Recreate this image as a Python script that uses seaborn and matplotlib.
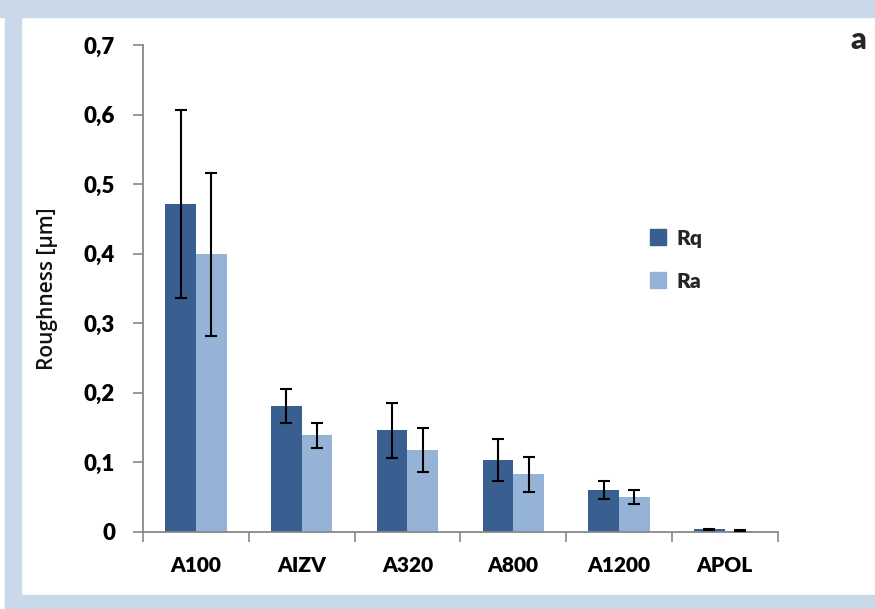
import matplotlib
matplotlib.use("Agg")
import matplotlib.pyplot as plt
import matplotlib.patches as mpatches
from matplotlib.lines import Line2D
import seaborn as sns
import pandas as pd
import numpy as np

categories = ["A100", "AIZV", "A320", "A800", "A1200", "APOL"]
series = ["Rq", "Ra"]
rq_values = [0.471, 0.181, 0.146, 0.104, 0.060, 0.004]
ra_values = [0.399, 0.139, 0.118, 0.083, 0.050, 0.002]
rq_errors = [0.135, 0.024, 0.040, 0.030, 0.013, 0.001]
ra_errors = [0.117, 0.018, 0.032, 0.025, 0.010, 0.001]
yticks = [0, 0.1, 0.2, 0.3, 0.4, 0.5, 0.6, 0.7]
ytick_labels = ["0", "0,1", "0,2", "0,3", "0,4", "0,5", "0,6", "0,7"]

colors = {"Rq": "#385F90", "Ra": "#95B3D7"}
frame_color = "#C9D9EA"
spine_color = "#888888"

sns.set_theme(style="white")
plt.rcParams["font.family"] = ["Lato", "DejaVu Sans"]

df = pd.DataFrame({
    "cat": categories * 2,
    "series": ["Rq"] * len(categories) + ["Ra"] * len(categories),
    "val": rq_values + ra_values,
})

fig = plt.figure(figsize=(8.75, 6.09), dpi=100)
fig.patch.set_facecolor("white")
# light blue frame
fig.patches.append(mpatches.Rectangle((0, 1 - 17 / 609), 1, 17 / 609, transform=fig.transFigure,
                                      color=frame_color, zorder=0))
fig.patches.append(mpatches.Rectangle((5 / 875, 1 / 609), 16 / 875, 1, transform=fig.transFigure,
                                      color=frame_color, zorder=0))
fig.patches.append(mpatches.Rectangle((5 / 875, 1 / 609), 1, 13 / 609, transform=fig.transFigure,
                                      color=frame_color, zorder=0))

ax = fig.add_axes([143 / 875, 1 - 532 / 609, (777.7 - 143) / 875, (532 - 45) / 609])
ax.set_facecolor("white")

sns.barplot(data=df, x="cat", y="val", hue="series", order=categories, hue_order=series,
            palette=colors, width=0.58, gap=0, ax=ax, legend=False, errorbar=None,
            saturation=1, edgecolor="none", linewidth=0)

errs = {"Rq": rq_errors, "Ra": ra_errors}
vals = {"Rq": rq_values, "Ra": ra_values}
for cont, s in zip(ax.containers, series):
    xs = [b.get_x() + b.get_width() / 2 for b in cont]
    ax.errorbar(xs, vals[s], yerr=errs[s], fmt="none", ecolor="black",
                elinewidth=1.5, capsize=4.5, capthick=1.5, zorder=5)

ax.set_ylim(0, 0.7)
ax.set_xlim(-0.5, len(categories) - 0.5)
ax.set_yticks(yticks)
ax.set_yticklabels(ytick_labels, fontsize=16, fontweight="heavy", color="black")
ax.set_xticks(range(len(categories)))
ax.set_xticklabels(categories, fontsize=15, fontweight="heavy", color="black")
ax.set_xticks(np.arange(-0.5, len(categories), 1), minor=True)
ax.tick_params(axis="x", which="major", length=0, pad=17)
ax.tick_params(axis="x", which="minor", length=7, width=1.2, color=spine_color, direction="out", bottom=True)
ax.tick_params(axis="y", which="major", length=7, width=1.2, color=spine_color, direction="out", left=True, pad=13)
ax.set_xlabel("")
ax.set_ylabel("Roughness [µm]", fontsize=15, fontweight="semibold",
              family=["Open Sans", "DejaVu Sans"], color="#111111")
ax.yaxis.set_label_coords(-(143 - 58) / (777.7 - 143), 0.5)

for side in ["top", "right"]:
    ax.spines[side].set_visible(False)
for side in ["left", "bottom"]:
    ax.spines[side].set_color(spine_color)
    ax.spines[side].set_linewidth(1.3)

handles = [Line2D([0], [0], marker="s", linestyle="none", markersize=12,
                  markerfacecolor=colors[s], markeredgecolor=colors[s]) for s in series]
leg = fig.legend(handles, series, loc="upper left", bbox_to_anchor=(629 / 875, 1 - 210 / 609),
                 frameon=False, prop={"size": 15, "weight": "heavy"}, labelspacing=1.15,
                 handlelength=1.0, handletextpad=0.4)

fig.text(858 / 875, 1 - 40 / 609, "a", fontsize=22, fontweight="heavy", ha="center", va="center")

fig.savefig("out.png", dpi=100, facecolor="white")
